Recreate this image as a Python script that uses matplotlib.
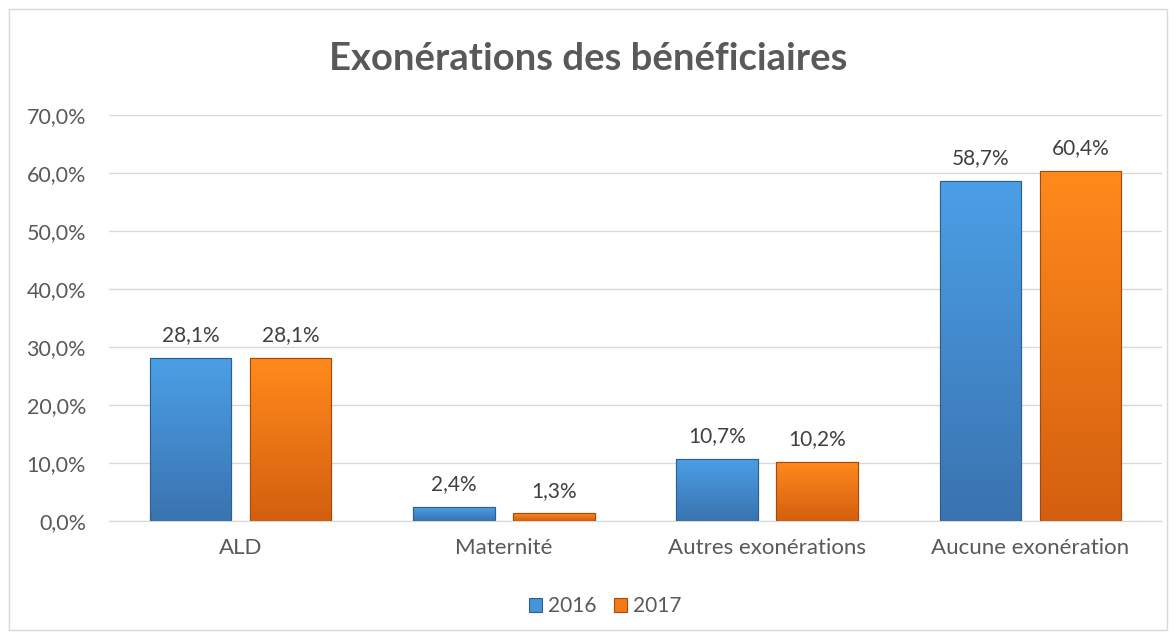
import matplotlib
matplotlib.use("Agg")
import matplotlib.pyplot as plt
import numpy as np
from matplotlib.colors import LinearSegmentedColormap
from matplotlib.patches import Rectangle

categories = ["ALD", "Maternité", "Autres exonérations", "Aucune exonération"]
years = ["2016", "2017"]
v2016 = [28.1, 2.4, 10.7, 58.7]
v2017 = [28.1, 1.3, 10.2, 60.4]

plt.rcParams['font.family'] = ['Lato', 'DejaVu Sans']
grey = "#595959"

fig = plt.figure(figsize=(11.76, 6.39), dpi=100)
ax = fig.add_axes([109 / 1176, 1 - 521 / 639, (1162 - 109) / 1176, (521 - 115) / 639])

# outer chart border
fig.patches.append(Rectangle((9 / 1176, 9 / 639), 1 - 18 / 1176, 1 - 18 / 639,
                             transform=fig.transFigure, fill=False,
                             edgecolor="#d9d9d9", linewidth=1))

x = np.arange(len(categories))
w = 0.31
gap = 0.07
off = (w + gap) / 2

cmaps = {
    "2016": LinearSegmentedColormap.from_list("b", ["#3a73b0", "#4b9fe6"]),
    "2017": LinearSegmentedColormap.from_list("o", ["#d45f10", "#ff8a1c"]),
}
edges = {"2016": "#2f5f8f", "2017": "#a8490c"}
faces = {"2016": "#4593d8", "2017": "#f27a18"}

for vals, yr, sgn in [(v2016, "2016", -1), (v2017, "2017", 1)]:
    bars = ax.bar(x + sgn * off, vals, width=w, color=faces[yr], edgecolor=edges[yr],
                  linewidth=0.8, label=yr, zorder=3)
    for b, v in zip(bars, vals):
        bx, bw, bh = b.get_x(), b.get_width(), b.get_height()
        grad = np.linspace(0, 1, 100).reshape(-1, 1)
        im = ax.imshow(grad, cmap=cmaps[yr], origin="lower", aspect="auto",
                       extent=[bx, bx + bw, 0, bh], zorder=3.5)
        im.set_clip_path(b)
        ax.add_patch(Rectangle((bx, 0), bw, bh, fill=False, edgecolor=edges[yr],
                               linewidth=0.8, zorder=4))
        ax.text(bx + bw / 2, bh + 2.9, f"{v:.1f}%".replace(".", ","), ha="center",
                va="baseline", fontsize=15, color="#404040")

ax.set_xlim(-0.5, len(categories) - 0.5)
ax.set_ylim(0, 70)
ax.set_yticks(np.arange(0, 71, 10))
ax.set_yticklabels([f"{t:.1f}%".replace(".", ",") for t in np.arange(0, 71, 10)])
ax.set_xticks(x)
ax.set_xticklabels(categories)
ax.tick_params(length=0, labelsize=15.5, colors=grey)
ax.tick_params(axis="x", labelsize=16, pad=12)
ax.tick_params(axis="y", pad=16.5)
ax.grid(axis="y", color="#d9d9d9", linewidth=1, zorder=0)
ax.set_axisbelow(True)
for s in ["top", "right", "left"]:
    ax.spines[s].set_visible(False)
ax.spines["bottom"].set_color("#d9d9d9")

fig.text(0.5, 1 - 70 / 639, "Exonérations des bénéficiaires", ha="center", va="baseline",
         fontsize=27.5, fontweight="bold", color=grey)

fig.legend(*ax.get_legend_handles_labels(), loc="center",
           bbox_to_anchor=(605 / 1176, 1 - 606 / 639), ncol=2,
           frameon=False, fontsize=15, handlelength=0.65, handleheight=0.65,
           handletextpad=0.25, columnspacing=0.85, labelcolor=grey)

fig.savefig("out.png", dpi=100)
